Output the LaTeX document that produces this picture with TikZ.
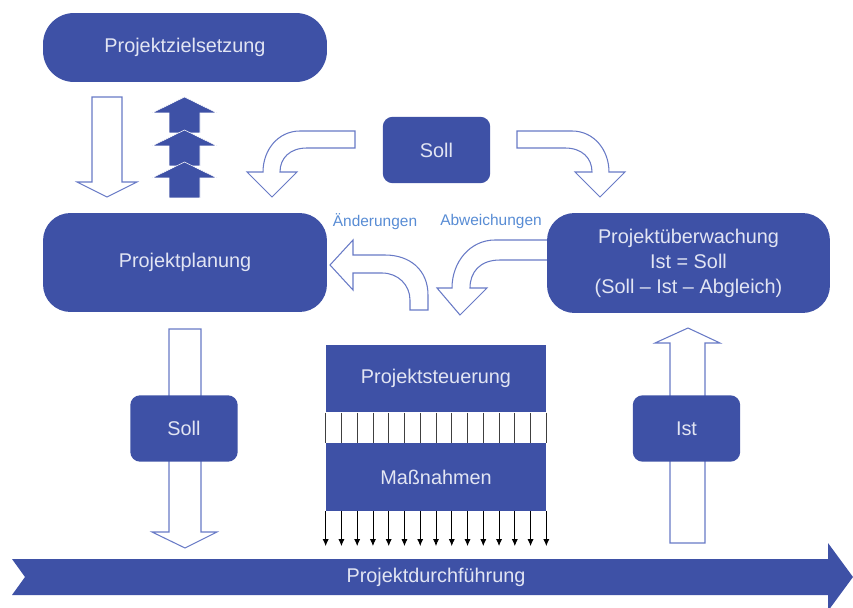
\documentclass[tikz,border=0pt]{standalone}
\usepackage{fontspec}
\setmainfont{Liberation Sans}
\usetikzlibrary{calc, arrows.meta}
\definecolor{boxblue}{RGB}{62, 81, 166}
\definecolor{boxtext}{RGB}{226, 229, 243}
\definecolor{outline}{RGB}{104, 122, 198}
\definecolor{labelblue}{RGB}{88, 140, 212}
\tikzset{>=latex}

\begin{document}
\begin{tikzpicture}[
    x = 0.02cm, y = -0.02cm,
    box/.style = {fill = boxblue, text = boxtext, font = \fontsize{11.3}{14.2}\selectfont, align = center, inner sep = 0pt},
    bigbox/.style = {box, rounded corners = 0.55cm, minimum width = 5.68cm, minimum height = 1.98cm},
    smallbox/.style = {box, rounded corners = 0.2cm, minimum width = 2.15cm, minimum height = 1.33cm},
    blockbox/.style = {box, minimum width = 4.4cm, minimum height = 1.35cm},
    hollow/.style = {draw = outline, fill = white, line width = 0.6pt},
    lbl/.style = {text = labelblue, font = \fontsize{8.8}{10}\selectfont}
]
\useasboundingbox (0,0) rectangle (853,608);

% hollow straight arrows
\draw[hollow] (92,97) -- (122,97) -- (122,182) -- (137,182) -- (107,197) -- (77,182) -- (92,182) -- cycle;
\draw[hollow] (169,329) -- (201,329) -- (201,532) -- (217,532) -- (185,548) -- (152,532) -- (169,532) -- cycle;
\draw[hollow] (670,543) -- (705,543) -- (705,343) -- (720,343) -- (688,328) -- (655,343) -- (670,343) -- cycle;

% hollow curved arrows
\draw[hollow] (355,131) -- (300,131) .. controls (278,131) and (263,150) .. (263,172) -- (247,172) -- (272,197) -- (297,172) -- (280,172) .. controls (280,158) and (290,148) .. (307,148) -- (355,148) -- cycle;
\draw[hollow] (517,131) -- (572,131) .. controls (594,131) and (609,150) .. (609,172) -- (625,172) -- (600,197) -- (575,172) -- (592,172) .. controls (592,158) and (582,148) .. (565,148) -- (517,148) -- cycle;
\draw[hollow] (428,310) -- (428,295) .. controls (428,270) and (410,255) .. (385,255) -- (353,255) -- (353,240) -- (330,265) -- (353,290) -- (353,273) -- (382,273) .. controls (398,273) and (410,285) .. (410,300) -- (410,310) -- cycle;
\draw[hollow] (548,240) -- (495,240) .. controls (470,240) and (452,262) .. (452,288) -- (437,288) -- (460,315) -- (487,288) -- (470,288) .. controls (470,272) and (480,260) .. (500,260) -- (548,260) -- cycle;

% stacked filled arrows
\foreach \t/\l in {97/36, 130/36, 162/36}
    \filldraw[fill = boxblue, draw = white, line width = 0.3pt] (184.5,\t) -- (217,\t+16) -- (200,\t+16) -- (200,\t+\l) -- (169,\t+\l) -- (169,\t+16) -- (152,\t+16) -- cycle;

\node[bigbox, minimum height = 1.38cm, rounded corners = 0.62cm] (ziel) at (185,47.5) {Projektzielsetzung};
\node[bigbox] (plan) at (185,262.5) {Projektplanung};
\node[bigbox, minimum width = 5.66cm, minimum height = 2cm] (ueber) at (688.5,263) {Projektüberwachung\\Ist = Soll\\(Soll – Ist – Abgleich)};
\node[smallbox] (sollTop) at (436.5,150) {Soll};
\node[smallbox] (sollLeft) at (184,428.5) {Soll};
\node[smallbox] (ist) at (686.5,428.5) {Ist};

\node[lbl] (aend) at (375,222) {Änderungen};
\node[lbl] (abw) at (491,222) {Abweichungen};

\node[blockbox] (steuer) at (436,378.5) {Projektsteuerung};
\node[blockbox] (mass) at (436,477) {Maßnahmen};
\foreach \i in {0,...,14}
    \draw[black!75, line width = 0.5pt] ($(steuer.south west)!\i/14!(steuer.south east)$) -- ($(mass.north west)!\i/14!(mass.north east)$);
\foreach \i in {0,...,14}
    \draw[-{Latex[length = 4pt, width = 3.5pt]}, black, line width = 0.5pt] ($(mass.south west)!\i/14!(mass.south east)$) -- ++(0,35);

% bottom arrow
\fill[boxblue] (12,559) -- (828,559) -- (828,543) -- (853,577) -- (828,611) -- (828,595) -- (12,595) -- (25,577) -- cycle;
\node[box, fill = none] (durch) at (436,577) {Projektdurchführung};
\end{tikzpicture}
\end{document}
